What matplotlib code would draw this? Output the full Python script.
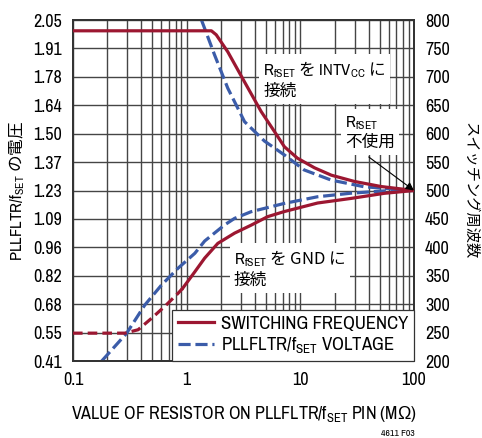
import matplotlib
matplotlib.use("Agg")
import matplotlib.pyplot as plt
from matplotlib import font_manager
from matplotlib.lines import Line2D

# narrow sans for the latin text, CJK font for the Japanese labels
installed = {f.name for f in font_manager.fontManager.ttflist}
NARROW = next(n for n in ['Liberation Sans Narrow', 'Arial Narrow', 'Archivo Narrow',
                          'Roboto Condensed', 'PT Sans Narrow', 'Liberation Sans', 'DejaVu Sans']
              if n in installed)
JP = 'Noto Sans CJK JP'

plt.rcParams['font.family'] = [NARROW, 'DejaVu Sans']
plt.rcParams['mathtext.fontset'] = 'custom'
plt.rcParams['mathtext.rm'] = NARROW
plt.rcParams['mathtext.it'] = NARROW
plt.rcParams['mathtext.bf'] = NARROW
plt.rcParams['mathtext.sf'] = 'Liberation Sans'   # used for the ohm sign
plt.rcParams['mathtext.fallback'] = 'stixsans'

RED = '#9c1731'
BLUE = '#3b5ca9'
GRID = '#454545'

# switching frequency (kHz), RfSET tied to INTVcc
r_intv = [0.1, 1.65, 1.82, 2.30, 3.23, 4.52, 5.91, 7.24, 9.41, 13.3, 18.7, 29.8, 51.3, 100]
f_intv = [781, 781, 774, 744, 691, 639, 604, 577, 557, 540, 527, 516, 507, 500]

# switching frequency (kHz), RfSET tied to GND
r_gnd = [0.1, 0.286, 0.374, 0.490, 0.641, 0.839, 0.923,
         1.18, 1.44, 1.88, 2.64, 3.69, 5.16, 7.24, 14.2, 27.8, 54.6, 100]
f_gnd = [249, 249, 255, 275, 296, 319, 328,
         357, 381, 407, 425, 439, 454, 463, 478, 486, 495, 500]
gnd_dash_end = 6  # dashed below ~0.9 MOhm

# PLLFLTR/fSET voltage (V)
r_v_intv = [1.35, 1.76, 2.30, 3.23, 4.83, 7.24, 10.8, 18.7, 36.4, 100]
v_intv = [2.05, 1.882, 1.722, 1.561, 1.468, 1.401, 1.329, 1.280, 1.248, 1.23]
r_v_gnd = [0.179, 0.296, 0.428, 0.600, 0.839, 1.18, 1.44, 2.15, 2.64, 3.69, 7.24,
           14.2, 27.8, 54.6, 100]
v_gnd = [0.41, 0.543, 0.679, 0.775, 0.856, 0.928, 0.987, 1.064, 1.096, 1.128, 1.168,
         1.200, 1.217, 1.228, 1.23]

v_labels = ['0.41', '0.55', '0.68', '0.82', '0.96', '1.09', '1.23',
            '1.37', '1.50', '1.64', '1.78', '1.91', '2.05']
f_ticks = [200, 250, 300, 350, 400, 450, 500, 550, 600, 650, 700, 750, 800]
x_ticks = [0.1, 1, 10, 100]
x_labels = ['0.1', '1', '10', '100']

fig = plt.figure(figsize=(4.82, 4.38), dpi=100)
ax = fig.add_axes([73 / 482, 1 - 361 / 438, 341 / 482, 341 / 438])
ax2 = ax.twinx()

ax.set_xscale('log')
ax.set_xlim(0.1, 100)
ax.set_ylim(0.41, 2.05)
ax2.set_ylim(200, 800)

# voltage gridlines are evenly spaced so they line up with the kHz scale
v_pos = [0.41 + i * (2.05 - 0.41) / 12 for i in range(13)]
ax.set_yticks(v_pos)
ax.set_yticklabels(v_labels)
ax2.set_yticks(f_ticks)
ax.set_xticks(x_ticks)
ax.set_xticklabels(x_labels)

ax.grid(True, which='both', axis='x', color=GRID, lw=1.0)
ax.grid(True, which='major', axis='y', color=GRID, lw=1.0)
ax.set_axisbelow(True)

ax.tick_params(which='both', length=0, labelsize=13)
ax.tick_params(axis='y', pad=8)
ax.tick_params(axis='x', pad=8)
ax2.tick_params(length=0, labelsize=13, pad=8)
for a in (ax, ax2):
    for s in a.spines.values():
        s.set_color('#333333')
        s.set_linewidth(1.3)

# curves
ax.plot(r_v_intv, v_intv, color=BLUE, lw=2.3, ls=(0, (3.8, 1.5)), zorder=3)
ax.plot(r_v_gnd, v_gnd, color=BLUE, lw=2.3, ls=(0, (3.8, 1.5)), zorder=3)
ax2.plot(r_intv, f_intv, color=RED, lw=2.3, zorder=3)
ax2.plot(r_gnd[:gnd_dash_end + 1], f_gnd[:gnd_dash_end + 1], color=RED, lw=2.3,
         ls=(0, (3.0, 1.6)), zorder=3)
ax2.plot(r_gnd[gnd_dash_end:], f_gnd[gnd_dash_end:], color=RED, lw=2.3, zorder=3)

box = dict(facecolor='white', edgecolor='none', pad=3)
ax2.text(0.558, 0.886, '$\\mathrm{R_{fSET}}$ を $\\mathrm{INTV_{CC}}$ に\n接続',
         transform=ax2.transAxes, fontsize=12, family=JP, va='top', ha='left',
         linespacing=1.25, bbox=box, zorder=2)
ax2.text(0.798, 0.724, '$\\mathrm{R_{fSET}}$\n不使用',
         transform=ax2.transAxes, fontsize=12, family=JP, va='top', ha='left',
         linespacing=1.15, bbox=box, zorder=2)
ax2.text(0.472, 0.331, '$\\mathrm{R_{fSET}}$ を GND に\n接続',
         transform=ax2.transAxes, fontsize=12, family=JP, va='top', ha='left',
         linespacing=1.25, bbox=box, zorder=2)
ax2.annotate('', xy=(100, 500), xytext=(40, 559),
             arrowprops=dict(arrowstyle='-|>', color='black', lw=0.8,
                             mutation_scale=12, shrinkA=0, shrinkB=0), zorder=4)

handles = [Line2D([], [], color=RED, lw=2.3),
           Line2D([], [], color=BLUE, lw=2.3, ls=(0, (3.8, 1.5)))]
leg = ax2.legend(handles, ['SWITCHING FREQUENCY', 'PLLFLTR/f$_{\\mathrm{SET}}$ VOLTAGE'],
                 loc='lower right', bbox_to_anchor=(1, 0), borderaxespad=0,
                 fontsize=13.5, handlelength=1.9, handletextpad=0.4,
                 labelspacing=0.2, borderpad=0.3, fancybox=False,
                 framealpha=1, edgecolor='#333333')
leg.get_frame().set_linewidth(0.9)
leg.set_zorder(5)

ax.set_xlabel('VALUE OF RESISTOR ON PLLFLTR/f$_{\\mathrm{SET}}$ PIN (M$\\mathsf{\\Omega}$)',
              fontsize=13)
ax.xaxis.set_label_coords(0.5, -0.125)
ax.set_ylabel('$\\mathrm{PLLFLTR/f_{SET}}$ の電圧', family=JP, fontsize=12, va='center')
ax.yaxis.set_label_coords(-0.165, 0.5)
ax2.set_ylabel('スイッチング周波数', family=JP, fontsize=11, rotation=270, va='center')
ax2.yaxis.set_label_coords(1.165, 0.5)
fig.text(398 / 482, 1 - 434 / 438, '4611 F03', fontsize=7, ha='center', va='center')

fig.savefig('out.png', dpi=100)
